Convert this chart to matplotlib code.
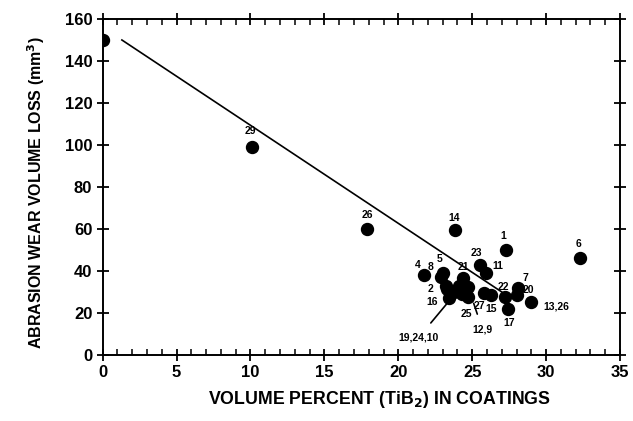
import numpy as np
import matplotlib
matplotlib.use("Agg")
import matplotlib.pyplot as plt
from matplotlib.ticker import MultipleLocator

plt.rcParams['font.family'] = ['Liberation Sans', 'DejaVu Sans']

# measured coatings (vol% TiB2, wear loss mm3)
vol_pct = [0, 10.1, 17.85, 23.86, 27.27, 32.3, 25.5, 25.95, 21.75, 23.0, 22.9,
           23.2, 24.4, 23.3, 23.8, 24.1, 24.7, 24.7, 25.8, 26.3, 27.2, 28.1,
           28.0, 29.0, 27.4, 23.4, 24.3]
wear_loss = [150, 99, 60, 59.5, 50, 46, 43, 39, 38, 39, 37,
             33, 36.5, 31.5, 30, 33, 32.5, 27.8, 29.4, 28.6, 27.8, 32,
             28.6, 25.4, 21.8, 27, 29]

# fitted line end points
fit_x = [1.3, 27.0]
fit_y = [150, 30]

# point labels and where they sit (data coords)
lab_text = ['29', '26', '14', '1', '6', '23', '11', '4', '8', '5', '21', '2',
            '16', '25', '27', '15', '22', '7', '20', '13,26', '17']
lab_x = [10.0, 17.9, 23.8, 27.1, 32.2, 25.3, 26.7, 21.3, 22.2, 22.8, 24.4, 22.2,
         22.3, 24.6, 25.5, 26.3, 27.1, 28.6, 28.8, 30.7, 27.5]
lab_y = [106.5, 66.5, 65, 56.5, 53, 48.5, 42.5, 43, 42, 45.5, 42, 31.5,
         25, 19.5, 23.5, 22, 32.5, 36.5, 31, 23, 15]

# arrow labels: text, text pos, arrow tip
arr_text = ['19,24,10', '12,9']
arr_x = [21.4, 25.7]
arr_y = [8.5, 12]
arr_tip_x = [23.4, 25.1]
arr_tip_y = [25.4, 24.6]

fig = plt.figure(figsize=(6.33, 4.21), dpi=100)
ax = fig.add_axes([0.1622, 0.1568, 0.8173, 0.7981])

ax.plot(vol_pct, wear_loss, 'o', color='black', markersize=8.6, zorder=3)
ax.plot(fit_x, fit_y, '-', color='black', lw=1.2)

for t, x, y in zip(lab_text, lab_x, lab_y):
    ax.text(x, y, t, fontsize=7.5, fontweight='bold', ha='center', va='center')

for t, x, y, tx, ty in zip(arr_text, arr_x, arr_y, arr_tip_x, arr_tip_y):
    ax.annotate(t, xy=(tx, ty), xytext=(x, y), fontsize=7.5, fontweight='bold',
                ha='center', va='center',
                arrowprops=dict(arrowstyle='-', color='black', lw=1.2,
                                shrinkA=6, shrinkB=0))

ax.set_xlim(0, 35)
ax.set_ylim(0, 160)
ax.xaxis.set_major_locator(MultipleLocator(5))
ax.xaxis.set_minor_locator(MultipleLocator(1))
ax.yaxis.set_major_locator(MultipleLocator(20))

for s in ax.spines.values():
    s.set_linewidth(1.4)

ax.tick_params(which='major', direction='inout', length=9, width=1.3,
               top=True, right=True, labelsize=12, pad=3)
ax.tick_params(axis='x', which='minor', direction='in', length=4, width=1.1,
               top=True)
for lbl in ax.get_xticklabels() + ax.get_yticklabels():
    lbl.set_fontweight('bold')

ax.set_xlabel('VOLUME PERCENT (TiB$_\\mathbf{2}$) IN COATINGS', fontsize=12.8,
              fontweight='bold', labelpad=6, x=0.536)
ax.set_ylabel('ABRASION WEAR VOLUME LOSS (mm$^\\mathbf{3}$)', fontsize=11.5,
              fontweight='bold', labelpad=13, y=0.484)

fig.savefig('out.png', dpi=100)
